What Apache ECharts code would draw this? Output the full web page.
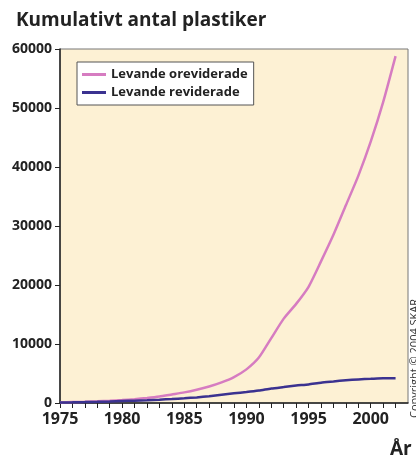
<!DOCTYPE html>
<html>
<head>
<meta charset="utf-8">
<script src="https://cdn.jsdelivr.net/npm/echarts@6/dist/echarts.min.js"></script>
<style>
  html, body { margin: 0; padding: 0; background: #fff; }
  .chart { width: 416px; height: 459px; }
</style>
</head>
<body>
<div class="chart"></div>
<script>
// år 1975 - 2002
const years = [
  1975, 1976, 1977, 1978, 1979, 1980, 1981, 1982, 1983, 1984, 1985, 1986, 1987, 1988,
  1989, 1990, 1991, 1992, 1993, 1994, 1995, 1996, 1997, 1998, 1999, 2000, 2001, 2002,
]
const oreviderade = [
  100, 150, 200, 280, 380, 500, 650, 850, 1100, 1450, 1800, 2250, 2800, 3500,
  4400, 5700, 7700, 11000, 14300, 16800, 19700, 24000, 28500, 33500, 38500, 44300, 51000, 58800,
]
const reviderade = [
  80, 110, 150, 200, 260, 330, 400, 480, 570, 680, 800, 950, 1150, 1400,
  1650, 1850, 2100, 2450, 2700, 2950, 3150, 3450, 3650, 3850, 4000, 4100, 4200, 4200,
]
const xLabels = [1975, 1980, 1985, 1990, 1995, 2000]
const yTicks = [0, 10000, 20000, 30000, 40000, 50000, 60000]

const myChart = echarts.init(document.querySelector('.chart'))

const font = '"Open Sans", "DejaVu Sans", sans-serif'

const option = {
  animation: false,
  textStyle: { fontFamily: font },
  title: {
    text: 'Kumulativt antal plastiker',
    left: 11,
    top: 6,
    textStyle: { fontSize: 19, fontWeight: 'bold', color: '#222', fontFamily: font },
  },
  legend: {
    left: 77,
    top: 62,
    orient: 'vertical',
    backgroundColor: '#fff',
    borderColor: '#555',
    borderWidth: 1,
    padding: [6, 6, 6, 5],
    itemGap: 5,
    itemWidth: 24,
    itemHeight: 3,
    icon: 'rect',
    textStyle: { fontSize: 13, fontWeight: 'bold', color: '#222', fontFamily: font },
  },
  grid: {
    left: 60,
    top: 49,
    right: 8,
    bottom: 56,
    show: true,
    backgroundColor: '#fdf1d4',
    borderColor: '#777',
    borderWidth: 1,
  },
  xAxis: {
    type: 'value',
    min: 1975,
    max: 2003,
    interval: 1,
    axisLine: { lineStyle: { color: '#222', width: 1.5 } },
    axisTick: { length: 5, lineStyle: { color: '#222' } },
    splitLine: { show: false },
    axisLabel: {
      fontSize: 16,
      fontWeight: 'bold',
      color: '#222',
      margin: 8,
      showMaxLabel: false,
      formatter: (v) => (xLabels.includes(v) ? String(v) : ''),
    },
  },
  yAxis: {
    type: 'value',
    min: 0,
    max: 60000,
    interval: 10000,
    axisLine: { show: true, lineStyle: { color: '#222', width: 1.5 } },
    axisTick: { show: true, length: 5, lineStyle: { color: '#222' } },
    splitLine: { show: false },
    axisLabel: {
      fontSize: 14,
      fontWeight: 'bold',
      color: '#222',
      margin: 8,
      formatter: (v) => (yTicks.includes(v) ? String(v) : ''),
    },
  },
  graphic: [
    {
      type: 'text',
      left: 390,
      top: 440,
      style: { text: 'År', fontSize: 19, fontWeight: 'bold', fill: '#222', fontFamily: font },
    },
    {
      type: 'text',
      x: 409,
      y: 418,
      rotation: Math.PI / 2,
      style: { text: 'Copyright © 2004 SKAR', fontSize: 11, fill: '#333', fontFamily: font },
    },
  ],
  series: [
    {
      name: 'Levande oreviderade',
      type: 'line',
      data: years.map((y, i) => [y, oreviderade[i]]),
      symbol: 'none',
      smooth: 0.2,
      lineStyle: { width: 2.5 },
    },
    {
      name: 'Levande reviderade',
      type: 'line',
      data: years.map((y, i) => [y, reviderade[i]]),
      symbol: 'none',
      smooth: 0.2,
      lineStyle: { width: 2.5 },
    },
  ],
  color: ['#d67cc1', '#3b3290'],
}

myChart.setOption(option)
</script>
</body>
</html>
